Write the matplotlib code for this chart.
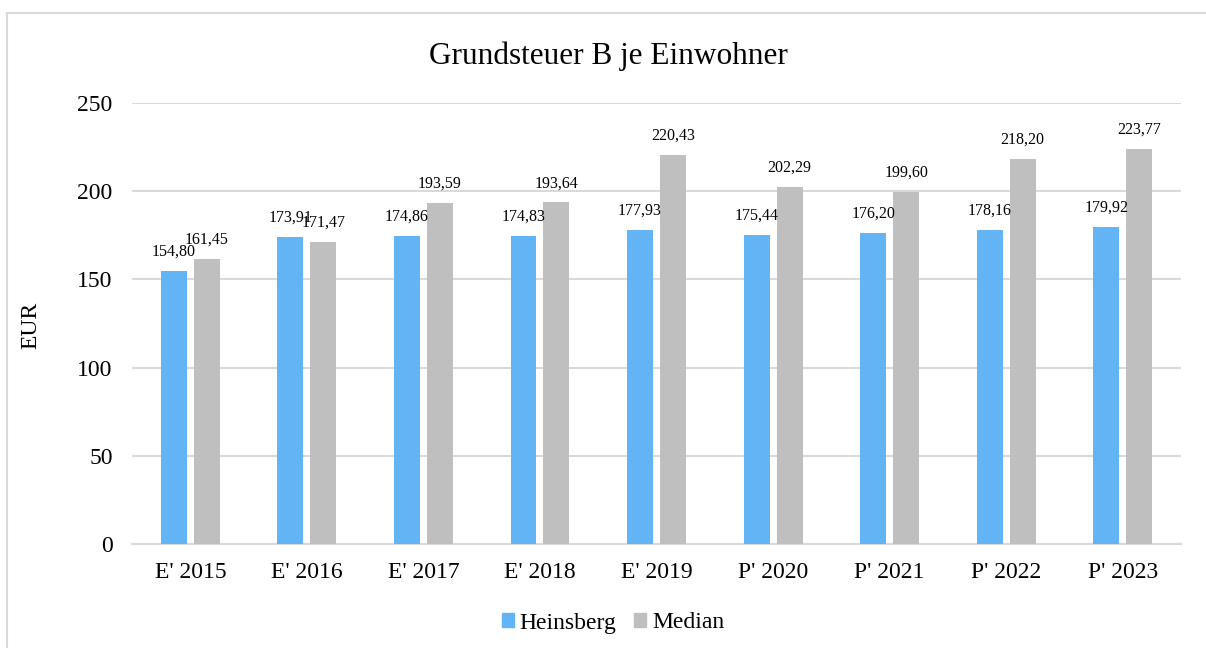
import matplotlib.pyplot as plt
import numpy as np
from matplotlib.lines import Line2D
from matplotlib.patches import Patch

plt.rcParams['font.family'] = ['Liberation Serif', 'DejaVu Serif']

categories = ["E' 2015", "E' 2016", "E' 2017", "E' 2018", "E' 2019",
              "P' 2020", "P' 2021", "P' 2022", "P' 2023"]
heinsberg = [154.80, 173.91, 174.86, 174.83, 177.93, 175.44, 176.20, 178.16, 179.92]
median = [161.45, 171.47, 193.59, 193.64, 220.43, 202.29, 199.60, 218.20, 223.77]

blue = '#63b4f5'
gray = '#bfbfbf'
grid_c = '#d9d9d9'

fig = plt.figure(figsize=(12.06, 6.48), dpi=100)
ax = fig.add_axes([0.1095, 0.1605, 0.8698, 0.6805])

x = np.arange(len(categories))
w = 0.223
off = 0.1415
b1 = ax.bar(x - off, heinsberg, w, color=blue, zorder=3)
b2 = ax.bar(x + off, median, w, color=gray, zorder=3)

def fmt(v):
    return f'{v:.2f}'.replace('.', ',')

# data labels, german decimal comma
for bars, vals in [(b1, heinsberg), (b2, median)]:
    for r, v in zip(bars, vals):
        ax.annotate(fmt(v), (r.get_x() + r.get_width() / 2, v),
                    xytext=(0, 11), textcoords='offset points',
                    ha='center', va='baseline', fontsize=11.5, zorder=4)

ax.set_xlim(-0.5, len(categories) - 0.5)
ax.set_ylim(0, 250)
ax.set_yticks([0, 50, 100, 150, 200, 250])
ax.set_xticks(x)
ax.set_xticklabels(categories)
ax.tick_params(axis='both', length=0, labelsize=17)
ax.tick_params(axis='y', pad=14)
ax.tick_params(axis='x', pad=13)
ax.yaxis.grid(True, color=grid_c, linewidth=1.5, zorder=0)
for s in ['top', 'right', 'left']:
    ax.spines[s].set_visible(False)
ax.spines['bottom'].set_color(grid_c)
ax.spines['bottom'].set_linewidth(1.5)

fig.text(608 / 1206, 1 - 56 / 648, 'Grundsteuer B je Einwohner',
         ha='center', va='center', fontsize=22.5)
fig.text(31 / 1206, 1 - 325 / 648, 'EUR', rotation=90,
         ha='center', va='center', fontsize=17)

handles = [Patch(color=blue, label='Heinsberg'), Patch(color=gray, label='Median')]
fig.legend(handles=handles, loc='center', bbox_to_anchor=(613 / 1206, 1 - 623 / 648),
           ncol=2, frameon=False, fontsize=17, handlelength=0.5, handleheight=0.5,
           handletextpad=0.25, columnspacing=0.75)

# chart border (left and top only, as in the cropped screenshot)
fig.add_artist(Line2D([7 / 1206, 7 / 1206], [0, 1 - 13 / 648], color=grid_c,
                      linewidth=1.5, transform=fig.transFigure))
fig.add_artist(Line2D([7 / 1206, 1], [1 - 13 / 648, 1 - 13 / 648], color=grid_c,
                      linewidth=1.5, transform=fig.transFigure))

fig.savefig('out.png', dpi=100)
